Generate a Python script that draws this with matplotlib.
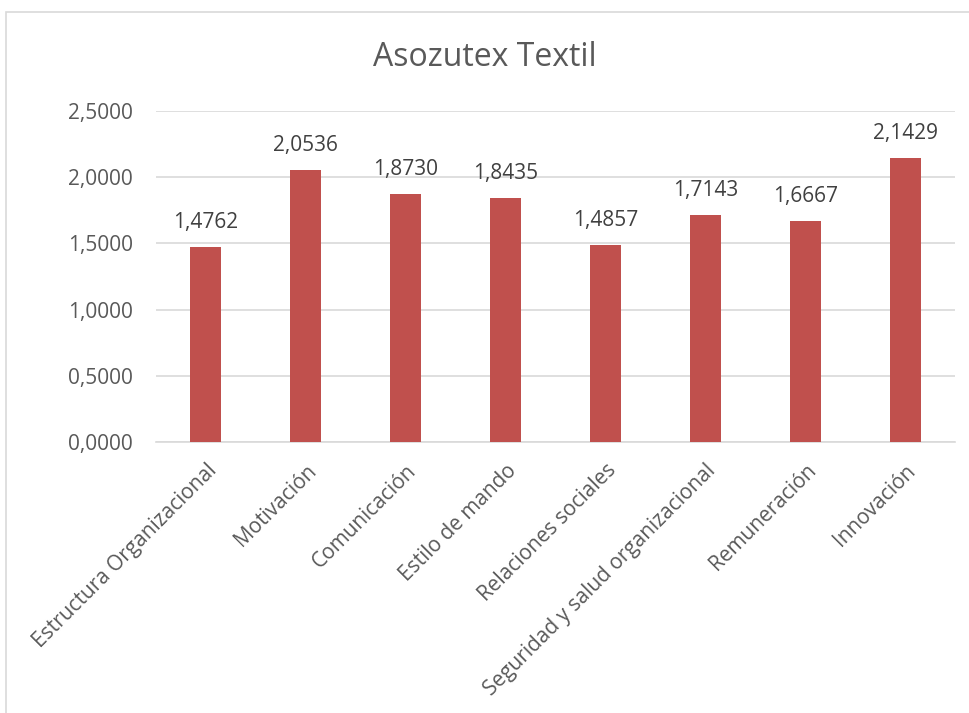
import matplotlib
matplotlib.use("Agg")
import matplotlib.pyplot as plt
from matplotlib.patches import Rectangle

categories = ["Estructura Organizacional", "Motivación", "Comunicación", "Estilo de mando",
              "Relaciones sociales", "Seguridad y salud organizacional", "Remuneración", "Innovación"]
values = [1.4762, 2.0536, 1.8730, 1.8435, 1.4857, 1.7143, 1.6667, 2.1429]
yticks = [0.0, 0.5, 1.0, 1.5, 2.0, 2.5]
title = "Asozutex Textil"

plt.rcParams['font.family'] = ['Open Sans', 'DejaVu Sans']
txt = '#595959'
fs = 15

fig = plt.figure(figsize=(9.70, 7.13), dpi=100)
fig.patches.append(Rectangle((6/970, -0.1), 1.2, 1 - 12/713 + 0.1, transform=fig.transFigure,
                             fill=False, edgecolor='#d9d9d9', linewidth=1.2))
ax = fig.add_axes([156/970, 1 - 442/713, 799/970, 331/713])
x = range(len(categories))
ax.bar(x, values, width=0.31, color='#C0504D', zorder=3)
for i, v in enumerate(values):
    ax.annotate(f"{v:.4f}".replace('.', ','), (i, v), xytext=(0, 10), textcoords='offset points',
                ha='center', va='bottom', fontsize=fs, color='#404040')
ax.set_xlim(-0.5, len(categories) - 0.5)
ax.set_ylim(0, 2.5)
ax.set_yticks(yticks)
ax.set_yticklabels([f"{t:.4f}".replace('.', ',') for t in yticks], fontsize=fs, color=txt)
ax.set_xticks(list(x))
ax.set_xticklabels(categories, rotation=45, ha='right', rotation_mode='anchor',
                   fontsize=fs, color=txt)
ax.tick_params(axis='both', length=0)
ax.tick_params(axis='y', pad=16.5)
ax.tick_params(axis='x', pad=13)
ax.grid(axis='y', color='#d9d9d9', linewidth=1.2, zorder=0)
for s in ['top', 'right', 'left']:
    ax.spines[s].set_visible(False)
ax.spines['bottom'].set_color('#d9d9d9')
ax.spines['bottom'].set_linewidth(1.2)
fig.text(0.5, 1 - 58/713, title, ha='center', va='center', fontsize=23, color=txt)
fig.savefig('out.png', dpi=100, facecolor='white')
